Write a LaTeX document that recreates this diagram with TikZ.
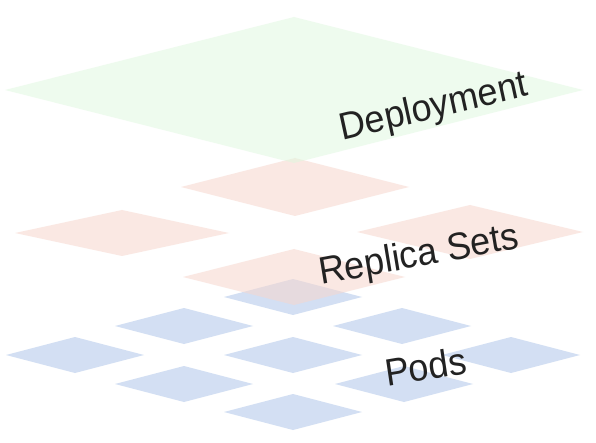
\documentclass[tikz,border=0pt]{standalone}
\usepackage{fontspec}
\setmainfont{Liberation Sans}
\begin{document}
\begin{tikzpicture}[x=1pt,y=-1pt,
  podfill/.style={fill={rgb,255:red,200;green,216;blue,240}, fill opacity=0.8},
  rsfill/.style={fill={rgb,255:red,247;green,214;blue,205}, fill opacity=0.55},
  depfill/.style={fill={rgb,255:red,222;green,248;blue,222}, fill opacity=0.5},
  layerlabel/.style={font=\fontsize{36}{40}\selectfont, text={rgb,255:red,34;green,34;blue,34}, anchor=base west, inner sep=0pt, yscale=1.06}]
\useasboundingbox (0,0) rectangle (596,443);
\fill[white] (0,0) rectangle (596,443);
\newcommand{\dmnd}[5]{\fill[#5] (#1-#3,#2) -- (#1,#2-#4) -- (#1+#3,#2) -- (#1,#2+#4) -- cycle;}
% Pods
\dmnd{293}{297}{69}{18}{podfill}
\dmnd{184}{326}{69}{18}{podfill}
\dmnd{402}{326}{69}{18}{podfill}
\dmnd{75}{355}{69}{18}{podfill}
\dmnd{293}{355}{69}{18}{podfill}
\dmnd{511}{355}{69}{18}{podfill}
\dmnd{184}{384}{69}{18}{podfill}
\dmnd{404}{384}{69}{18}{podfill}
\dmnd{293}{412}{69}{18}{podfill}
% Replica sets
\dmnd{295}{187}{114}{29}{rsfill}
\dmnd{122}{233}{107}{23}{rsfill}
\dmnd{470}{232}{113}{27}{rsfill}
\dmnd{294}{277}{111}{28}{rsfill}
% Deployment
\dmnd{294}{90}{289}{73}{depfill}
% Labels
\node[layerlabel, rotate=13] (dep) at (342,141) {Deployment};
\node[layerlabel, rotate=10] (rs) at (321,285) {Replica Sets};
\node[layerlabel, rotate=9] (pods) at (387,387) {Pods};
\end{tikzpicture}
\end{document}
